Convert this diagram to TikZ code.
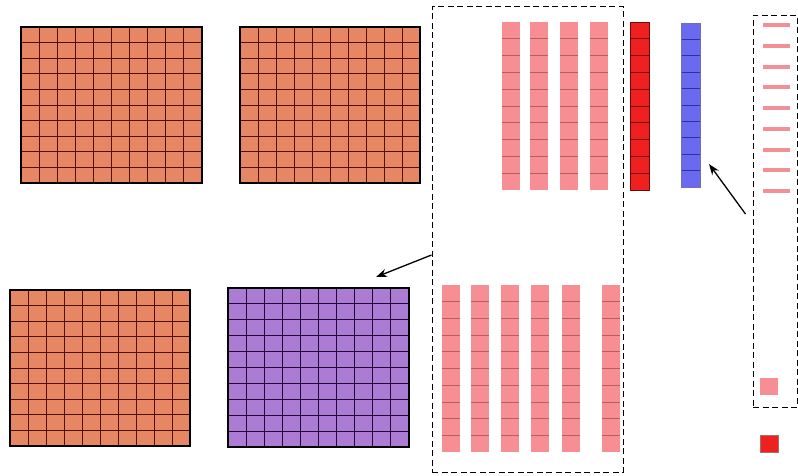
\documentclass[tikz,border=0pt]{standalone}
\usetikzlibrary{arrows.meta}
\definecolor{orangeF}{RGB}{230,134,98}
\definecolor{orangeL}{RGB}{80,18,6}
\definecolor{purpleF}{RGB}{172,124,212}
\definecolor{purpleL}{RGB}{32,6,50}
\definecolor{pinkF}{RGB}{246,142,148}
\definecolor{pinkL}{RGB}{180,95,100}
\definecolor{redF}{RGB}{238,32,32}
\definecolor{redL}{RGB}{110,10,10}
\definecolor{blueF}{RGB}{106,106,240}
\definecolor{blueL}{RGB}{50,50,150}
% #1 x0, #2 y0, #3 x1, #4 y1, #5 fill, #6 line colour
\newcommand\fullgrid[6]{%
  \fill[#5] (#1,#2) rectangle (#3,#4);
  \foreach \k in {1,...,9}{%
    \draw[#6, line width=1pt] ({#1+\k*(#3-#1)/10},#2) -- ({#1+\k*(#3-#1)/10},#4);
    \draw[#6, line width=1pt] (#1,{#2+\k*(#4-#2)/10}) -- (#3,{#2+\k*(#4-#2)/10});
  }
  \draw[black, line width=1.8pt] (#1,#2) rectangle (#3,#4);
}
\newcommand\strip[6]{%
  \fill[#5] (#1,#2) rectangle (#3,#4);
  \foreach \k in {1,...,9}{%
    \draw[#6, line width=0.8pt] (#1,{#2+\k*(#4-#2)/10}) -- (#3,{#2+\k*(#4-#2)/10});
  }
}
\tikzset{
  dashbox/.style={draw=black, line width=1pt, dash pattern=on 6pt off 3.5pt, fill=none, inner sep=0pt},
  arr/.style={-{Stealth[length=11pt,width=8pt]}, line width=1.3pt, black}
}
\begin{document}
\begin{tikzpicture}[x=1pt,y=-1pt]
\useasboundingbox (0,0) rectangle (798,475);
% big grids
\fullgrid{21}{27}{202}{183}{orangeF}{orangeL}
\fullgrid{240}{27}{420}{183}{orangeF}{orangeL}
\fullgrid{10}{290}{190}{446}{orangeF}{orangeL}
\fullgrid{228}{288}{409}{447}{purpleF}{purpleL}
% middle dashed box
\node[dashbox, minimum width=191pt, minimum height=466pt] (mid) at (527.5,239) {};
% top pink strips
\foreach \x in {502,530,560,590}{\strip{\x}{22}{\x+18}{190}{pinkF}{pinkL}}
% bottom pink strips
\foreach \x in {442,471,501,531,562,602}{\strip{\x}{285}{\x+18}{452}{pinkF}{pinkL}}
% red and blue strips
\strip{630}{22}{649}{190}{redF}{redL}
\draw[redL, line width=0.5pt] (630,22) rectangle (649,190);
\strip{681}{23}{700}{187}{blueF}{blueL}
\draw[blueL!70, line width=0.5pt] (681,23) rectangle (700,187);
\coordinate (blueTip) at (709,164);
% right dashed box
\node[dashbox, minimum width=44pt, minimum height=392pt] (right) at (775,211) {};
\foreach \y in {25,46,67,87,108,129,150,170,191}{%
  \fill[pinkF] (763,{\y-2}) rectangle (790,{\y+2});
  \foreach \xx in {770,777,784}{\draw[pinkL!60, line width=0.4pt] (\xx,{\y-2}) -- (\xx,{\y+2});}
}
\fill[pinkF] (760,378) rectangle (778,395);
\fill[redF] (760,435) rectangle (778,452);
\draw[redL!60, line width=0.4pt] (760,435) rectangle (778,452);
% arrows
\coordinate (purpTip) at (376,277);
\draw[arr] ([yshift=-16pt]mid.west) -- (purpTip);
\draw[arr] ([xshift=-7pt,yshift=-3pt]right.west) -- (blueTip);
\end{tikzpicture}
\end{document}
